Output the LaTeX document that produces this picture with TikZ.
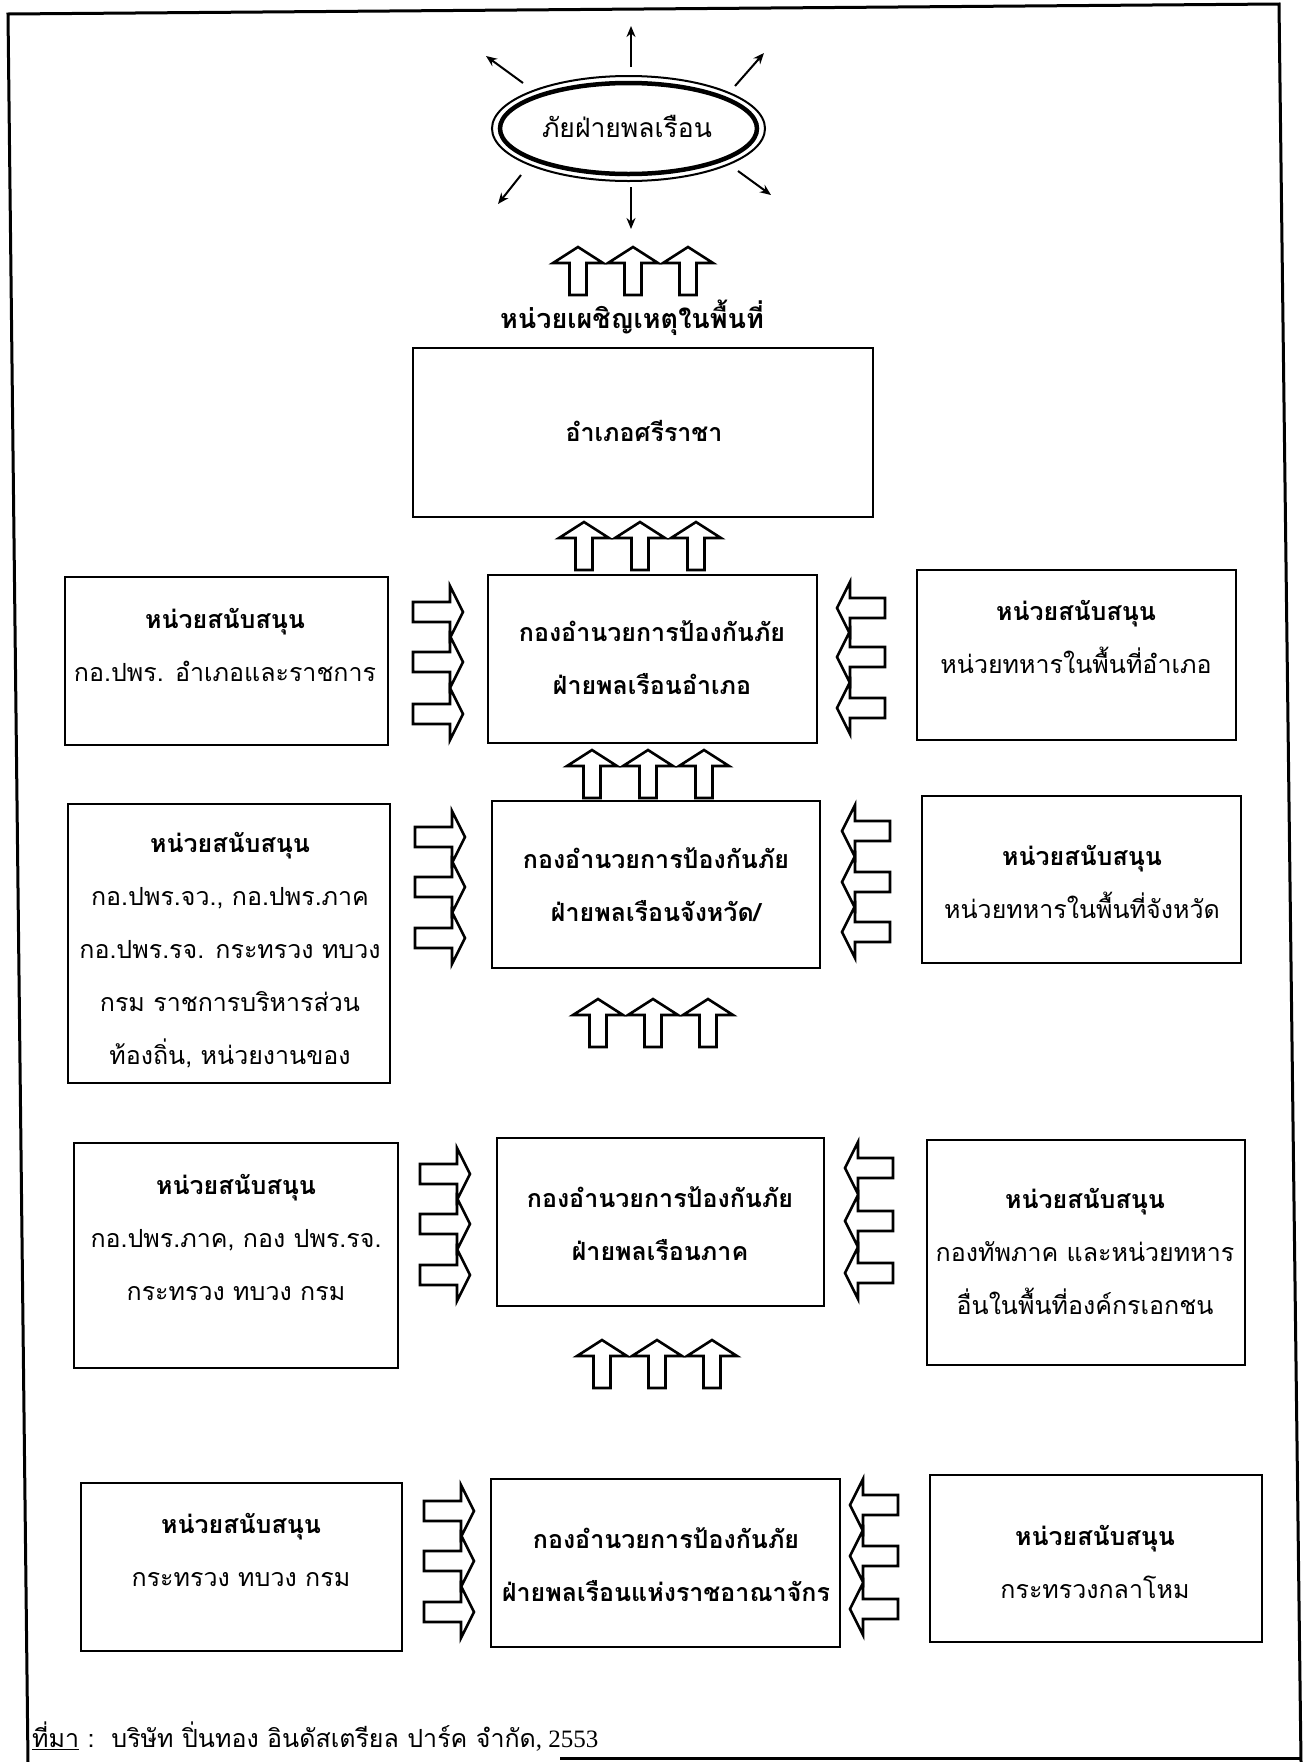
\documentclass[tikz,border=0pt]{standalone}
\usepackage{fontspec}
\newfontfamily\thai[Script=Thai]{Loma}
\newfontfamily\serifnum{Liberation Serif}
\usetikzlibrary{arrows.meta,calc,shapes.geometric}
\tikzset{
  frame/.style={line width=3pt},
  box/.style={draw, line width=2.4pt, rectangle, inner sep=0pt},
  txt/.style={align=center, inner sep=0pt, font=\thai\fontsize{25}{53}\selectfont},
  ctxt/.style={align=center, inner sep=0pt, font=\thai\bfseries\fontsize{25}{53}\selectfont},
  thin/.style={line width=2pt, -{Stealth[length=11pt,width=9pt]}},
  blk/.style={draw, line width=2.6pt, line join=miter, fill=white},
  uparr/.pic={\path[blk] (0,0) -- (25,16) -- (8.5,16) -- (8.5,48) -- (-8.5,48) -- (-8.5,16) -- (-25,16) -- cycle;},
  rarr/.pic={\path[blk] (0,0) -- (-13,-26) -- (-13,-10) -- (-50,-10) -- (-50,10) -- (-13,10) -- (-13,26) -- cycle;},
  larr/.pic={\path[blk] (0,0) -- (13,-26) -- (13,-10) -- (48,-10) -- (48,10) -- (13,10) -- (13,26) -- cycle;},
}
\newcommand{\hd}[1]{{\bfseries #1}}
\begin{document}
\begin{tikzpicture}[x=1pt,y=-1pt]
\useasboundingbox (0,0) rectangle (1303,1762);
\fill[white] (0,0) rectangle (1303,1762);
% outer frame (scanned, slightly skewed)
\draw[frame] (28,1762) -- (8,14) -- (1279,4) -- (1301,1762);
\draw[frame] (560,1758) -- (1301,1758);

% hazard ellipse
\node[draw, ellipse, line width=2pt, minimum width=273pt, minimum height=105pt, inner sep=0pt] (haz) at (628.5,128.5) {};
\node[draw, ellipse, line width=4.5pt, minimum width=257pt, minimum height=91pt, inner sep=0pt] (hazin) at (628.5,128.5) {};
\node[inner sep=0pt, font=\thai\fontsize{26.5}{30}\selectfont] (hazt) at (627,126) {ภัยฝ่ายพลเรือน};
\coordinate (nS) at (631,67);   \coordinate (nE) at (631,26);
\coordinate (nwS) at (523,83);  \coordinate (nwE) at (486,56);
\coordinate (neS) at (735,86);  \coordinate (neE) at (764,53);
\coordinate (swS) at (521,175); \coordinate (swE) at (498,204);
\coordinate (sS) at (631,187);  \coordinate (sE) at (631,229);
\coordinate (seS) at (738,171); \coordinate (seE) at (771,195);
\draw[thin] (nS) -- (nE);
\draw[thin] (nwS) -- (nwE);
\draw[thin] (neS) -- (neE);
\draw[thin] (swS) -- (swE);
\draw[thin] (sS) -- (sE);
\draw[thin] (seS) -- (seE);

% up arrows groups
\foreach \x in {578,633,688} \pic at (\x,247) {uparr};
\node[inner sep=0pt, font=\thai\bfseries\fontsize{27}{32}\selectfont] (lab) at (632,318) {หน่วยเผชิญเหตุในพื้นที่};
\foreach \x in {584,640,696} \pic at (\x,522) {uparr};
\foreach \x in {592,648,704} \pic at (\x,750) {uparr};
\foreach \x in {598,653,708} \pic at (\x,999) {uparr};
\foreach \x in {602,657,712} \pic at (\x,1340) {uparr};

% box 1
\node[box, minimum width=460pt, minimum height=169pt] (b1) at (643,432.5) {};
\node[ctxt] (b1t) at (644,431) {อำเภอศรีราชา};

% row 2
\node[box, minimum width=323pt, minimum height=168pt] (r2l) at (226.5,661) {};
\node[box, minimum width=329pt, minimum height=168pt] (r2c) at (652.5,659) {};
\node[box, minimum width=319pt, minimum height=170pt] (r2r) at (1076.5,655) {};
\node[txt] (r2lt) at (225,645) {\hd{หน่วยสนับสนุน}\\กอ.ปพร. อำเภอและราชการ};
\node[ctxt] (r2ct) at (652,658) {กองอำนวยการป้องกันภัย\\ฝ่ายพลเรือนอำเภอ};
\node[txt] (r2rt) at (1076,637) {\hd{หน่วยสนับสนุน}\\หน่วยทหารในพื้นที่อำเภอ};
\foreach \y in {612,662,714} \pic at (463,\y) {rarr};
\foreach \y in {608,657,708} \pic at (837,\y) {larr};

% row 3
\node[box, minimum width=322pt, minimum height=279pt] (r3l) at (229,943.5) {};
\node[box, minimum width=328pt, minimum height=167pt] (r3c) at (656,884.5) {};
\node[box, minimum width=319pt, minimum height=167pt] (r3r) at (1081.5,879.5) {};
\node[txt] (r3lt) at (230,950) {\hd{หน่วยสนับสนุน}\\กอ.ปพร.จว., กอ.ปพร.ภาค\\กอ.ปพร.รจ. กระทรวง ทบวง\\กรม ราชการบริหารส่วน\\ท้องถิ่น, หน่วยงานของ};
\node[ctxt] (r3ct) at (656,885) {กองอำนวยการป้องกันภัย\\ฝ่ายพลเรือนจังหวัด/};
\node[txt] (r3rt) at (1082,882) {\hd{หน่วยสนับสนุน}\\หน่วยทหารในพื้นที่จังหวัด};
\foreach \y in {837,887,938} \pic at (465,\y) {rarr};
\foreach \y in {831,882,932} \pic at (842,\y) {larr};

% row 4
\node[box, minimum width=324pt, minimum height=225pt] (r4l) at (236,1255.5) {};
\node[box, minimum width=327pt, minimum height=168pt] (r4c) at (660.5,1222) {};
\node[box, minimum width=318pt, minimum height=225pt] (r4r) at (1086,1252.5) {};
\node[txt] (r4lt) at (236,1237) {\hd{หน่วยสนับสนุน}\\กอ.ปพร.ภาค, กอง ปพร.รจ.\\กระทรวง ทบวง กรม};
\node[ctxt] (r4ct) at (660,1224) {กองอำนวยการป้องกันภัย\\ฝ่ายพลเรือนภาค};
\node[txt] (r4rt) at (1085,1251) {\hd{หน่วยสนับสนุน}\\กองทัพภาค และหน่วยทหาร\\อื่นในพื้นที่องค์กรเอกชน};
\foreach \y in {1174,1224,1275} \pic at (470,\y) {rarr};
\foreach \y in {1168,1221,1273} \pic at (845,\y) {larr};

% row 5
\node[box, minimum width=321pt, minimum height=168pt] (r5l) at (241.5,1567) {};
\node[box, minimum width=349pt, minimum height=168pt] (r5c) at (665.5,1563) {};
\node[box, minimum width=332pt, minimum height=167pt] (r5r) at (1096,1558.5) {};
\node[txt] (r5lt) at (241,1550) {\hd{หน่วยสนับสนุน}\\กระทรวง ทบวง กรม};
\node[ctxt] (r5ct) at (666,1565) {กองอำนวยการป้องกันภัย\\ฝ่ายพลเรือนแห่งราชอาณาจักร};
\node[txt] (r5rt) at (1095,1562) {\hd{หน่วยสนับสนุน}\\กระทรวงกลาโหม};
\foreach \y in {1511,1561,1612} \pic at (474,\y) {rarr};
\foreach \y in {1505,1556,1609} \pic at (850,\y) {larr};

% source
\node[anchor=west, inner sep=0pt, font=\thai\fontsize{25}{30}\selectfont] (src) at (32,1737) {\underline{ที่มา} :\ \ บริษัท ปิ่นทอง อินดัสเตรียล ปาร์ค จำกัด{\serifnum , 2553}};
\end{tikzpicture}
\end{document}
